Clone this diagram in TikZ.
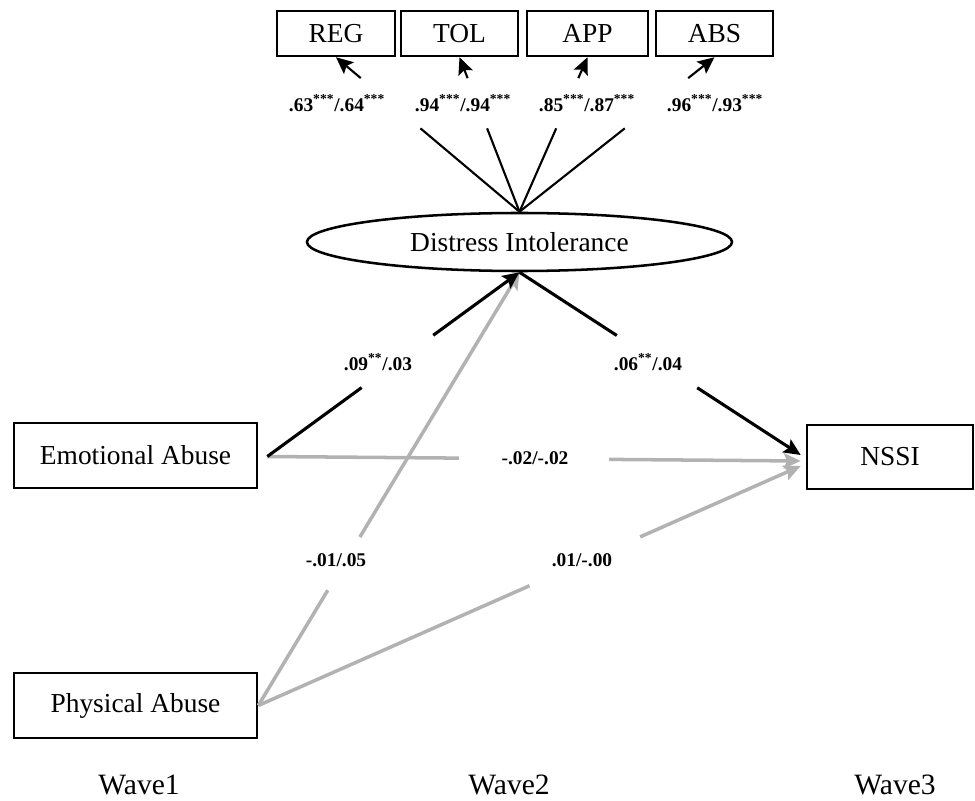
\documentclass[tikz,border=0pt]{standalone}
\usepackage{fontspec}
\setmainfont{Liberation Serif}
\usetikzlibrary{arrows.meta,calc,shapes.geometric}
\definecolor{pathgray}{RGB}{178,178,178}

\begin{document}
\begin{tikzpicture}[x=0.025cm,y=-0.025cm,>={Stealth[length=0.42cm,width=0.38cm,inset=0.08cm]},
  box/.style={draw,line width=1.8pt,inner sep=0pt,font=\fontsize{19.5}{23}\selectfont},
  ind/.style={box,minimum height=1.125cm},
  var/.style={box,minimum width=6.075cm,minimum height=1.625cm},
  coef/.style={font=\bfseries\fontsize{13.8}{16}\selectfont,inner sep=1pt},
  wave/.style={font=\fontsize{21}{25}\selectfont},
  load/.style={line width=1.5pt,black},
  sig/.style={line width=2.2pt,black},
  nsig/.style={line width=2.5pt,pathgray}]

  \useasboundingbox (0,0) rectangle (975,801);

  % indicators
  \node[ind, minimum width=2.95cm] (reg) at (336,33.5) {REG};
  \node[ind, minimum width=2.925cm] (tol) at (459.5,33.5) {TOL};
  \node[ind, minimum width=3.025cm] (app) at (587.5,33.5) {APP};
  \node[ind, minimum width=2.925cm] (abs) at (714.5,33.5) {ABS};

  % latent
  \node[box, ellipse, minimum width=10.625cm, minimum height=1.45cm] (di) at (519.5,242) {Distress Intolerance};

  % observed
  \node[var] (ea) at (135.5,455.5) {Emotional Abuse};
  \node[var] (pa) at (135.5,705.5) {Physical Abuse};
  \node[box, minimum width=4.15cm, minimum height=1.6cm] (nssi) at (890,457) {NSSI};

  \node[wave] (w1) at (139,785) {Wave1};
  \node[wave] (w2) at (509,785) {Wave2};
  \node[wave] (w3) at (895,785) {Wave3};

  \coordinate (eaout) at ($(ea.east)+(9,1)$);
  \coordinate (nssia) at ($(nssi.west)+(-5,-2)$);
  \coordinate (nssib) at ($(nssi.west)+(-5,4)$);
  \coordinate (nssic) at ($(nssi.west)+(-5,9)$);

  % loadings
  \draw[load] (di.north) -- ($(di.north)!0.54!(reg.south)$);
  \draw[load,->] ($(di.north)!0.865!(reg.south)$) -- (reg.south);
  \draw[load] (di.north) -- ($(di.north)!0.54!(tol.south)$);
  \draw[load,->] ($(di.north)!0.865!(tol.south)$) -- (tol.south);
  \draw[load] (di.north) -- ($(di.north)!0.54!(app.south)$);
  \draw[load,->] ($(di.north)!0.865!(app.south)$) -- (app.south);
  \draw[load] (di.north) -- ($(di.north)!0.54!(abs.south)$);
  \draw[load,->] ($(di.north)!0.865!(abs.south)$) -- (abs.south);

  \node[coef] (lreg) at (337,103) {.63\textsuperscript{***}/.64\textsuperscript{***}};
  \node[coef] (ltol) at (463,103) {.94\textsuperscript{***}/.94\textsuperscript{***}};
  \node[coef] (lapp) at (587,103) {.85\textsuperscript{***}/.87\textsuperscript{***}};
  \node[coef] (labs) at (715,103) {.96\textsuperscript{***}/.93\textsuperscript{***}};

  % non significant paths
  \draw[nsig] (eaout) -- ($(eaout)!0.359!(nssib)$);
  \draw[nsig,->] ($(eaout)!0.641!(nssib)$) -- (nssib);
  \draw[nsig] (pa.east) -- ($(pa.east)!0.266!(di.south)$);
  \draw[nsig,->] ($(pa.east)!0.389!(di.south)$) -- (di.south);
  \draw[nsig] (pa.east) -- ($(pa.east)!0.5!(nssic)$);
  \draw[nsig,->] ($(pa.east)!0.704!(nssic)$) -- (nssic);

  % significant paths
  \draw[sig] (eaout) -- ($(eaout)!0.374!(di.south)$);
  \draw[sig,->] ($(eaout)!0.658!(di.south)$) -- (di.south);
  \draw[sig] (di.south) -- ($(di.south)!0.346!(nssia)$);
  \draw[sig,->] ($(di.south)!0.632!(nssia)$) -- (nssia);

  \node[coef] (lea) at (378,362) {.09\textsuperscript{**}/.03};
  \node[coef] (lnssi) at (648,362) {.06\textsuperscript{**}/.04};
  \node[coef] (ldir) at (535,458) {-.02/-.02};
  \node[coef] (lpa) at (336,560) {-.01/.05};
  \node[coef] (lpan) at (582,560) {.01/-.00};

\end{tikzpicture}
\end{document}
